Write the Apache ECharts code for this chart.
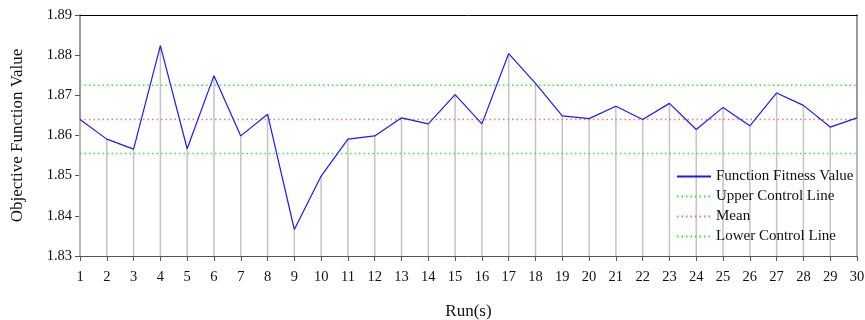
<!DOCTYPE html>
<html><head><meta charset="utf-8">
<script src="https://cdn.jsdelivr.net/npm/echarts@6/dist/echarts.min.js"></script>
<style>html,body{margin:0;padding:0;background:#fff}#c{width:865px;height:320px}</style>
</head><body><div id="c"></div>
<script>
const runs = ['1','2','3','4','5','6','7','8','9','10','11','12','13','14','15','16','17','18','19','20','21','22','23','24','25','26','27','28','29','30'];
const fitness = [1.8640,1.8591,1.8566,1.8824,1.8567,1.8749,1.8599,1.8653,1.8366,1.8499,
                 1.8591,1.8599,1.8644,1.8629,1.8702,1.8629,1.8804,1.8730,1.8649,1.8642,
                 1.8673,1.8640,1.8680,1.8615,1.8670,1.8624,1.8706,1.8675,1.8621,1.8644];
const upperControl = 1.8725;
const meanValue = 1.8640;
const lowerControl = 1.8555;
const yTicks = [1.83,1.84,1.85,1.86,1.87,1.88,1.89];

const font = 'Liberation Serif';
const chart = echarts.init(document.getElementById('c'));
function ctrl(name, v, color){
  return {name:name, type:'line', data:runs.map(()=>v), color:color, symbol:'none', silent:true, z:3,
          lineStyle:{color:color, type:[1.5,3], width:1.5}};
}
chart.setOption({
  animation:false,
  textStyle:{fontFamily:font},
  grid:{left:80, right:8, top:15, bottom:64, outerBoundsMode:'none', containLabel:false},
  legend:{
    orient:'vertical', left:671, top:164, itemWidth:34, itemHeight:14, itemGap:5,
    itemStyle:{opacity:0},
    textStyle:{fontFamily:font, fontSize:15, color:'#111'},
    data:['Function Fitness Value','Upper Control Line','Mean','Lower Control Line']
  },
  xAxis:[{
    type:'category', data:runs, boundaryGap:false,
    name:'Run(s)', nameLocation:'middle', nameGap:47,
    nameTextStyle:{fontFamily:font, fontSize:17, color:'#111'},
    axisLine:{lineStyle:{color:'#555', width:1}},
    axisTick:{show:true, length:5, lineStyle:{color:'#555'}},
    axisLabel:{fontFamily:font, fontSize:14.5, color:'#111', margin:14, interval:0},
    splitLine:{show:false}
  },{
    type:'category', data:runs, boundaryGap:false, position:'top',
    axisLine:{lineStyle:{color:'#000', width:1}}, axisTick:{show:false}, axisLabel:{show:false}
  }],
  yAxis:[{
    type:'value', min:1.83, max:1.89, interval:0.01,
    name:'Objective Function Value', nameLocation:'middle', nameGap:54,
    nameTextStyle:{fontFamily:font, fontSize:17, color:'#111'},
    axisLine:{show:true, lineStyle:{color:'#999', width:2}},
    axisTick:{show:true, length:5, lineStyle:{color:'#555'}},
    axisLabel:{fontFamily:font, fontSize:14.5, color:'#111', margin:8, formatter:v=>v.toFixed(2)},
    splitLine:{show:false}
  },{
    type:'value', min:1.83, max:1.89, interval:0.01, position:'right',
    axisLine:{show:true, lineStyle:{color:'#999', width:2}},
    axisTick:{show:false}, axisLabel:{show:false}, splitLine:{show:false}
  }],
  series:[
    {
      type:'custom', silent:true, z:1,
      renderItem:function(params, api){
        const top = api.coord([api.value(0), api.value(1)]);
        const bot = api.coord([api.value(0), yTicks[0]]);
        return {type:'line', shape:{x1:top[0], y1:top[1], x2:bot[0], y2:bot[1]},
                style:{stroke:'#c4c4c4', lineWidth:1.5}};
      },
      data: fitness.map((v,i)=>[i, v])
    },
    ctrl('Upper Control Line', upperControl, '#2ef02e'),
    ctrl('Mean', meanValue, '#f47272'),
    ctrl('Lower Control Line', lowerControl, '#2ef02e'),
    {name:'Function Fitness Value', type:'line', data:fitness, color:'#1a1aff', z:5,
     symbol:'none', lineStyle:{color:'#1a1aff', width:1.2}}
  ]
});
</script>
</body></html>
